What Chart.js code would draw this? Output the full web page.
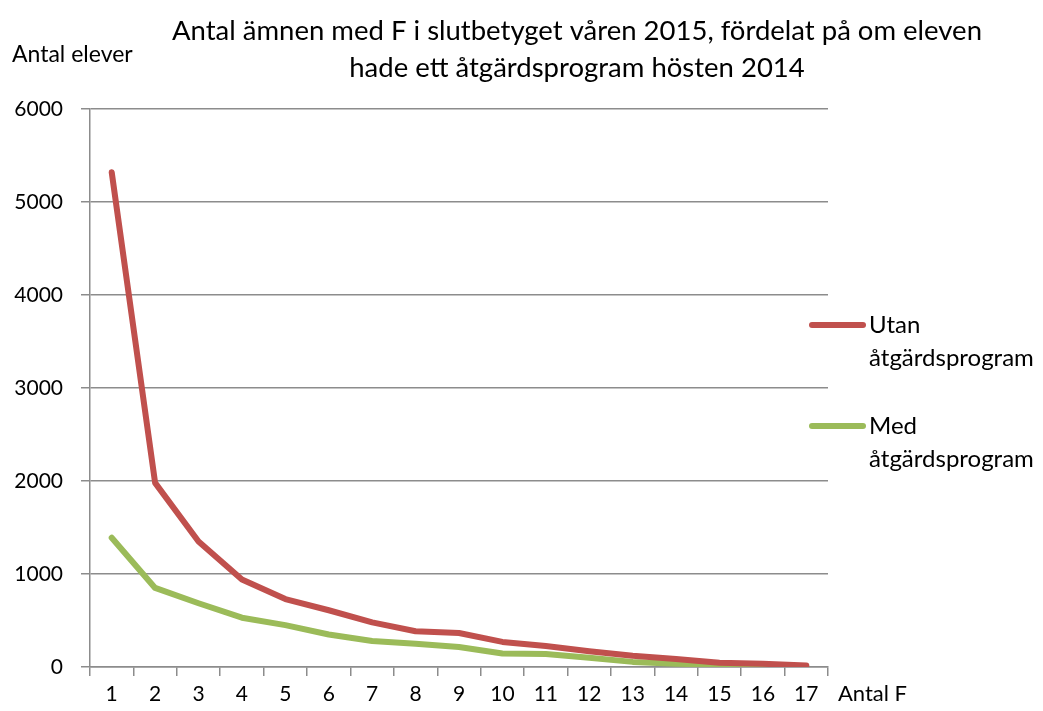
<!DOCTYPE html>
<html>
<head>
<meta charset="utf-8">
<script src="https://cdn.jsdelivr.net/npm/chart.js@4"></script>
<style>
  html, body { margin: 0; padding: 0; background: #fff; }
  #wrap { width: 1043px; height: 711px; }
</style>
</head>
<body>
<div id="wrap"><canvas id="chart" width="1043" height="711"></canvas></div>
<script>
const categories = ["1","2","3","4","5","6","7","8","9","10","11","12","13","14","15","16","17"];
const utanValues = [5320, 1980, 1350, 940, 730, 610, 480, 385, 365, 270, 225, 170, 120, 85, 45, 35, 15];
const medValues = [1390, 850, 685, 530, 450, 350, 280, 250, 215, 145, 140, 100, 55, 35, 25, 15, 5];
const seriesNames = ["Utan\nåtgärdsprogram", "Med\nåtgärdsprogram"];
const titleLines = ["Antal ämnen med F i slutbetyget våren 2015, fördelat på om eleven", "hade ett åtgärdsprogram hösten 2014"];
const yTitle = "Antal elever";
const xTitle = "Antal F";

const FONT = "Lato, 'Open Sans', sans-serif";
const gridColor = "#8c8c8c";

// draws title, axis titles and the legend in the spots the original uses
const extras = {
  id: "extras",
  afterDraw(chart) {
    const ctx = chart.ctx;
    const area = chart.chartArea;
    ctx.save();
    ctx.fillStyle = "#000";
    ctx.textBaseline = "middle";

    ctx.font = "27.5px " + FONT;
    ctx.textAlign = "center";
    ctx.fillText(titleLines[0], 577, 31);
    ctx.fillText(titleLines[1], 577, 68);

    ctx.font = "23px " + FONT;
    ctx.textAlign = "left";
    ctx.fillText(yTitle, 12, 55);
    ctx.font = "22px " + FONT;
    ctx.fillText(xTitle, area.right + 10, chart.scales.x.bottom - 17);

    const rows = [325, 426];
    chart.data.datasets.forEach((ds, i) => {
      const y = rows[i];
      ctx.strokeStyle = ds.borderColor;
      ctx.lineWidth = 6;
      ctx.lineCap = "round";
      ctx.beginPath();
      ctx.moveTo(812, y);
      ctx.lineTo(863, y);
      ctx.stroke();
      ctx.font = "24px " + FONT;
      ds.label.split("\n").forEach((t, j) => ctx.fillText(t, 869, y + j * 33));
    });
    ctx.restore();
  }
};

new Chart(document.getElementById("chart").getContext("2d"), {
  type: "line",
  data: {
    labels: categories,
    datasets: [
      {
        label: seriesNames[0],
        data: utanValues,
        borderColor: "#c0504d",
        borderWidth: 6,
        pointRadius: 0,
        tension: 0,
        fill: false,
        borderJoinStyle: "round",
        borderCapStyle: "round",
      },
      {
        label: seriesNames[1],
        data: medValues,
        borderColor: "#9bbb59",
        borderWidth: 6,
        pointRadius: 0,
        tension: 0,
        fill: false,
        borderJoinStyle: "round",
        borderCapStyle: "round",
      },
    ],
  },
  options: {
    responsive: false,
    animation: false,
    layout: { padding: { left: 10, top: 109, right: 215, bottom: 0 } },
    plugins: {
      legend: { display: false },
      title: { display: false },
      tooltip: { enabled: false },
    },
    scales: {
      x: {
        offset: true,
        grid: { display: true, drawOnChartArea: false, color: gridColor, lineWidth: 1.5, tickLength: 9, offset: true },
        border: { display: true, color: gridColor, width: 1.5 },
        ticks: { color: "#000", font: { family: FONT, size: 21 }, padding: 6, maxRotation: 0, autoSkip: false },
        afterFit: (s) => { s.height = 44; },
      },
      y: {
        min: 0,
        max: 6000,
        grid: { color: gridColor, lineWidth: 1.5, tickLength: 9 },
        border: { display: true, color: gridColor, width: 1.5 },
        ticks: { stepSize: 1000, color: "#000", font: { family: FONT, size: 21 }, padding: 18, callback: (v) => String(v) },
        afterFit: (s) => { s.width = 80; },
      },
    },
  },
  plugins: [extras],
});
</script>
</body>
</html>
